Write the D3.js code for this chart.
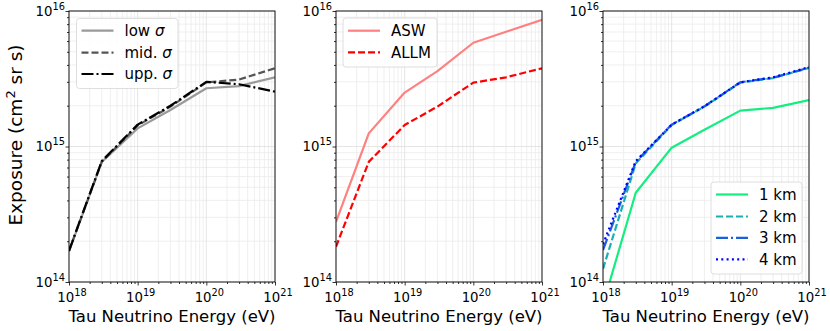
<!DOCTYPE html>
<html><head><meta charset="utf-8">
<script src="https://cdn.jsdelivr.net/npm/d3@7"></script>
<style>body{margin:0;background:#fff}svg{display:block;font-family:"DejaVu Sans",sans-serif}</style>
</head><body><svg id="c" width="830" height="331"></svg>
<script>
// ---- data ----
const energies = [1e18, 3e18, 1e19, 3e19, 1e20, 3e20, 1e21];
const lowSigma = [1.68e14, 7.7e14, 1.36e15, 1.86e15, 2.69e15, 2.79e15, 3.24e15];
const midSigma = [1.7e14, 7.7e14, 1.43e15, 1.97e15, 2.97e15, 3.12e15, 3.78e15];
const uppSigma = [1.7e14, 7.8e14, 1.45e15, 2.0e15, 3.0e15, 2.88e15, 2.54e15];
const asw  = [2.78e14, 1.25e15, 2.5e15, 3.6e15, 5.83e15, 7.03e15, 8.6e15];
const allm = [1.82e14, 7.7e14, 1.44e15, 1.97e15, 2.96e15, 3.24e15, 3.78e15];
const km1 = [6.8e13, 4.56e14, 9.8e14, 1.33e15, 1.84e15, 1.93e15, 2.2e15];
const km2 = [1.25e14, 7.5e14, 1.44e15, 1.97e15, 2.96e15, 3.2e15, 3.8e15];
const km3 = [1.72e14, 7.7e14, 1.45e15, 1.98e15, 2.98e15, 3.22e15, 3.82e15];
const km4 = [1.9e14, 7.8e14, 1.45e15, 1.98e15, 2.98e15, 3.24e15, 3.85e15];
const xTickExp = [18, 19, 20, 21];
const yTickExp = [14, 15, 16];
const xLabel = "Tau Neutrino Energy (eV)";

const panels = [
  {left: 69, legend: {x: 76.5, y: 18.5, w: 101.5, h: 70, rows: [30.7, 52.7, 74]},
   series: [
     {name: "low σ", base: "low ", ital: "σ", v: lowSigma, color: "#9a9a9a", dash: null},
     {name: "mid. σ", base: "mid. ", ital: "σ", v: midSigma, color: "#555555", dash: "7,3"},
     {name: "upp. σ", base: "upp. ", ital: "σ", v: uppSigma, color: "#000000", dash: "12,3,2,3"}]},
  {left: 336, legend: {x: 343, y: 18, w: 94, h: 49, rows: [30.7, 52.3]},
   series: [
     {name: "ASW", v: asw, color: "#ff8080", dash: null},
     {name: "ALLM", v: allm, color: "#ff0000", dash: "7,3"}]},
  {left: 603, legend: {x: 711, y: 182, w: 91, h: 92, rows: [194.5, 216.5, 237.8, 259.3]},
   series: [
     {name: "1 km", v: km1, color: "#14ee80", dash: null},
     {name: "2 km", v: km2, color: "#19b0b4", dash: "7,3"},
     {name: "3 km", v: km3, color: "#1a5fdc", dash: "12,3,2,3"},
     {name: "4 km", v: km4, color: "#0000ff", dash: "2,3.3"}]}
];

const W = 206, pTop = 11, pBottom = 282;
const svg = d3.select("#c");
const y = d3.scaleLog().domain([1e14, 1e16]).range([pBottom, pTop]);

const minorX = [], minorY = [];
for (let e = 18; e < 21; e++) for (let k = 2; k <= 9; k++) minorX.push(k * Math.pow(10, e));
for (let e = 14; e < 16; e++) for (let k = 2; k <= 9; k++) minorY.push(k * Math.pow(10, e));

function supLabel(g, x0, y0, exp, anchor) {
  const t = g.append("text").attr("x", x0).attr("y", y0).attr("text-anchor", anchor)
    .attr("font-size", 13.3).attr("fill", "#000");
  t.append("tspan").text("10");
  t.append("tspan").attr("font-size", 9.8).attr("dy", -6).text(exp);
}

panels.forEach((p, i) => {
  const x = d3.scaleLog().domain([1e18, 1e21]).range([p.left, p.left + W]);
  const g = svg.append("g");
  const clipId = "clip" + i;
  svg.append("clipPath").attr("id", clipId).append("rect")
    .attr("x", p.left).attr("y", pTop).attr("width", W).attr("height", pBottom - pTop);

  // grid
  const grid = g.append("g");
  grid.selectAll(".gxm").data(minorX).join("line")
    .attr("x1", d => x(d)).attr("x2", d => x(d)).attr("y1", pTop).attr("y2", pBottom)
    .attr("stroke", "#ebebeb").attr("stroke-width", 0.8);
  grid.selectAll(".gym").data(minorY).join("line")
    .attr("y1", d => y(d)).attr("y2", d => y(d)).attr("x1", p.left).attr("x2", p.left + W)
    .attr("stroke", "#ebebeb").attr("stroke-width", 0.8);
  grid.selectAll(".gx").data(xTickExp.map(e => Math.pow(10, e))).join("line")
    .attr("x1", d => x(d)).attr("x2", d => x(d)).attr("y1", pTop).attr("y2", pBottom)
    .attr("stroke", "#dedede").attr("stroke-width", 0.8);
  grid.selectAll(".gy").data(yTickExp.map(e => Math.pow(10, e))).join("line")
    .attr("y1", d => y(d)).attr("y2", d => y(d)).attr("x1", p.left).attr("x2", p.left + W)
    .attr("stroke", "#dedede").attr("stroke-width", 0.8);

  // lines
  const line = d3.line().x((d, j) => x(energies[j])).y(d => y(d));
  const lg = g.append("g").attr("clip-path", `url(#${clipId})`);
  p.series.forEach(s => {
    lg.append("path").datum(s.v).attr("d", line).attr("fill", "none")
      .attr("stroke", s.color).attr("stroke-width", 2.2)
      .attr("stroke-dasharray", s.dash).attr("stroke-linejoin", "round");
  });

  // axes
  const ax = g.append("g").attr("transform", `translate(0,${pBottom})`);
  ax.call(d3.axisBottom(x).tickValues(minorX).tickSize(2).tickFormat(""));
  ax.select(".domain").remove();
  const ax2 = g.append("g").attr("transform", `translate(0,${pBottom})`);
  ax2.call(d3.axisBottom(x).tickValues(xTickExp.map(e => Math.pow(10, e))).tickSize(3.5).tickFormat(""));
  ax2.select(".domain").remove();
  const ay = g.append("g").attr("transform", `translate(${p.left},0)`);
  ay.call(d3.axisLeft(y).tickValues(minorY).tickSize(2).tickFormat(""));
  ay.select(".domain").remove();
  const ay2 = g.append("g").attr("transform", `translate(${p.left},0)`);
  ay2.call(d3.axisLeft(y).tickValues(yTickExp.map(e => Math.pow(10, e))).tickSize(3.5).tickFormat(""));
  ay2.select(".domain").remove();
  g.selectAll(".tick line").attr("stroke", "#000").attr("stroke-width", 0.8);

  g.append("rect").attr("x", p.left).attr("y", pTop).attr("width", W).attr("height", pBottom - pTop)
    .attr("fill", "none").attr("stroke", "#000").attr("stroke-width", 0.9);

  xTickExp.forEach(e => supLabel(g, x(Math.pow(10, e)) + 3, 302, String(e), "middle"));
  yTickExp.forEach(e => supLabel(g, p.left - 4, y(Math.pow(10, e)) + 4.8, String(e), "end"));

  g.append("text").attr("x", p.left + W / 2).attr("y", 321.5).attr("text-anchor", "middle")
    .attr("font-size", 16.5).text(xLabel);

  // legend
  const L = p.legend;
  const leg = g.append("g");
  leg.append("rect").attr("x", L.x).attr("y", L.y).attr("width", L.w).attr("height", L.h)
    .attr("rx", 3).attr("fill", "rgba(255,255,255,0.85)").attr("stroke", "#d6d6d6").attr("stroke-width", 0.8);
  const lx0 = L.x + 5, lx1 = L.x + 37, tx = L.x + 48;
  p.series.forEach((s, j) => {
    const ry = L.rows[j];
    leg.append("line").attr("x1", lx0).attr("x2", lx1).attr("y1", ry).attr("y2", ry)
      .attr("stroke", s.color).attr("stroke-width", 2.2).attr("stroke-dasharray", s.dash);
    const t = leg.append("text").attr("x", tx).attr("y", ry + 5.3).attr("font-size", 15);
    if (s.ital) {
      t.append("tspan").text(s.base);
      t.append("tspan").attr("font-style", "italic").text(s.ital);
    } else t.text(s.name);
  });
});

// y label
const yl = svg.append("text").attr("transform", "translate(22,135) rotate(-90)")
  .attr("text-anchor", "middle").attr("font-size", 18.5);
yl.append("tspan").text("Exposure (cm");
yl.append("tspan").attr("font-size", 13).attr("dy", -7).text("2");
yl.append("tspan").attr("dy", 7).text(" sr s)");
</script></body></html>
